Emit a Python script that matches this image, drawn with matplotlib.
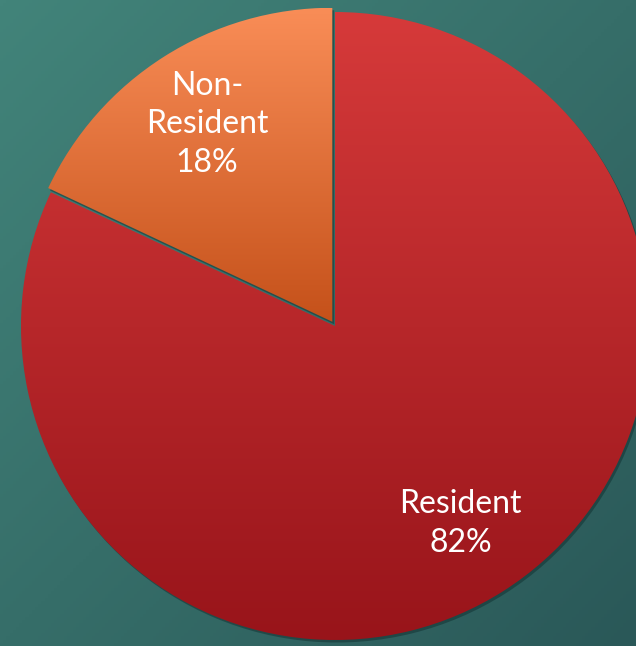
import numpy as np
import matplotlib
matplotlib.use("Agg")
import matplotlib.pyplot as plt
from matplotlib.colors import LinearSegmentedColormap
from matplotlib.patches import Wedge

# Residency split
labels = ["Resident", "Non-Resident"]
label_text = ["Resident", "Non-\nResident"]
shares = [82, 18]

# top / bottom colours for each slice gradient
grad_top = ["#d63a3a", "#f98d57"]
grad_bottom = ["#98141a", "#c5511a"]
explode = [0.0, 0.016]

W, H = 636, 646
cx, cy, R = 335, 326, 314

fig = plt.figure(figsize=(W / 100, H / 100), dpi=100)
ax = fig.add_axes([0, 0, 1, 1])
ax.set_xlim(-cx / R, (W - cx) / R)
ax.set_ylim(-(H - cy) / R, cy / R)
ax.set_aspect("equal")
ax.axis("off")

# teal background, lighter to the upper left
xmin, xmax = ax.get_xlim()
ymin, ymax = ax.get_ylim()
gx, gy = np.meshgrid(np.linspace(0, 1, 200), np.linspace(0, 1, 200))
g = (gx + gy) / 2
bg_cmap = LinearSegmentedColormap.from_list("bg", ["#42847a", "#2a5858"])
ax.imshow(g, cmap=bg_cmap, extent=[xmin, xmax, ymin, ymax], origin="upper",
          aspect="auto", zorder=0)

wedges, texts = ax.pie(shares, labels=[f"{t}\n{s}%" for t, s in zip(label_text, shares)],
                       startangle=90, counterclock=False, explode=explode,
                       labeldistance=0.745, radius=1.0,
                       wedgeprops=dict(linewidth=0))

# soft shadow under each slice
for w in wedges:
    sh = Wedge((w.center[0] + 0.006, w.center[1] - 0.008), w.r, w.theta1, w.theta2,
               facecolor="#0d2a2a", alpha=0.45, linewidth=0, zorder=0.5)
    ax.add_patch(sh)

# vertical gradient fill clipped to each slice, spanning the slice's own height
for w, top, bot in zip(wedges, grad_top, grad_bottom):
    w.set_facecolor("none")
    w.set_zorder(2)
    verts = w.get_path().vertices
    y0, y1 = verts[:, 1].min(), verts[:, 1].max()
    x0, x1 = verts[:, 0].min(), verts[:, 0].max()
    cm = LinearSegmentedColormap.from_list("s", [top, bot])
    im = ax.imshow(np.linspace(0, 1, 256).reshape(-1, 1), cmap=cm,
                   extent=[x0, x1, y0, y1], origin="upper", aspect="auto", zorder=1)
    im.set_clip_path(w)

for t in texts:
    t.set_ha("center")
    t.set_va("center")
    t.set_color("white")
    t.set_fontsize(23)
    t.set_family("Lato")
    t.set_linespacing(1.35)
    t.set_zorder(3)

ax.set_xlim(xmin, xmax)
ax.set_ylim(ymin, ymax)
fig.savefig("out.png", dpi=100)
